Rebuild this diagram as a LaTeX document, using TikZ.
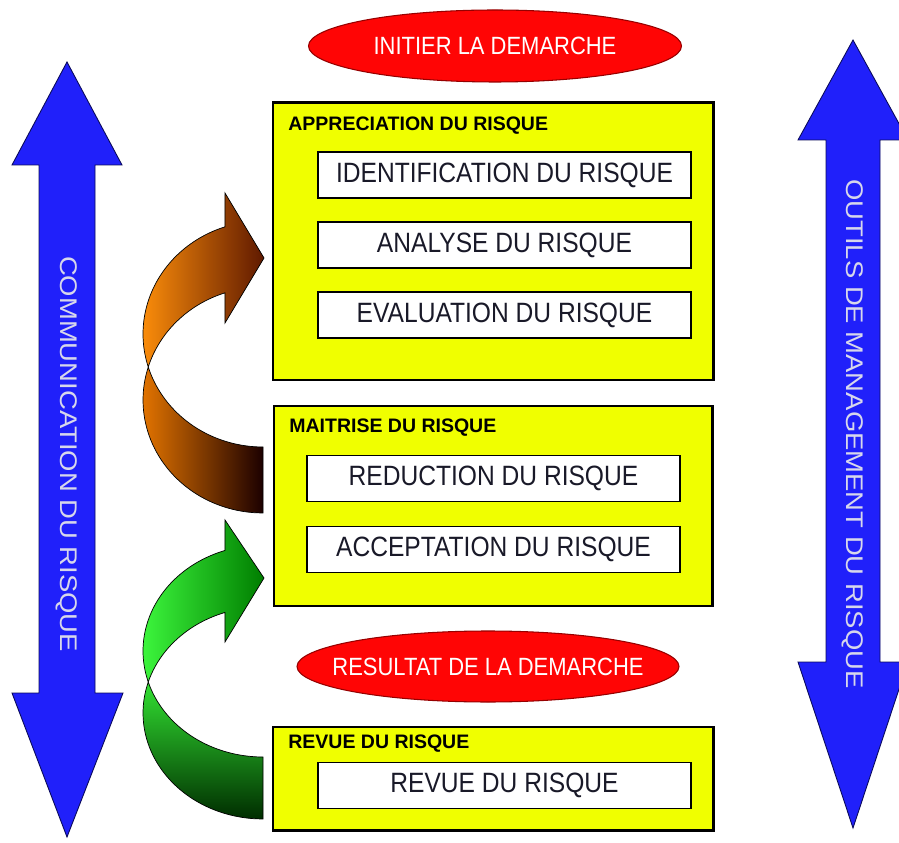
\documentclass[tikz,border=0pt]{standalone}
\usepackage{fontspec}
\setmainfont{Liberation Sans}
\newfontfamily\narrowfont[FakeStretch=0.88]{Liberation Sans}
\newfontfamily\tallfont[FakeStretch=1.14]{Liberation Sans}
\usepackage{tikz}
\usetikzlibrary{shapes.geometric}

\definecolor{boxyellow}{RGB}{240,255,0}
\definecolor{ovalred}{RGB}{255,5,5}
\definecolor{ovalborder}{RGB}{150,0,0}
\definecolor{arrowblue}{RGB}{32,32,250}
\definecolor{navyline}{RGB}{10,10,90}
\definecolor{labelgray}{RGB}{215,215,235}
\definecolor{textdark}{RGB}{25,25,40}

\begin{document}
\begin{tikzpicture}[
    x=0.2mm, y=-0.2mm,
    phase/.style={rectangle, draw=black, line width=1.7pt, fill=boxyellow, inner sep=0pt},
    task/.style={rectangle, draw=black, line width=0.8pt, fill=white, inner sep=0pt,
      minimum width=74.6mm, minimum height=9.2mm, text=textdark,
      font=\narrowfont\fontsize{15.9}{18}\selectfont},
    milestone/.style={ellipse, draw=ovalborder, line width=0.6pt, fill=ovalred,
      inner xsep=-14pt, inner ysep=0pt,
      text=white, font=\narrowfont\fontsize{14.2}{17}\selectfont},
    title/.style={anchor=base west, inner sep=0pt, text=black,
      font=\bfseries\fontsize{11.1}{13}\selectfont},
    sidearrow/.style={draw=navyline, line width=0.5pt, fill=arrowblue},
    sidelabel/.style={rotate=-90, inner sep=0pt, text=labelgray,
      font=\tallfont\fontsize{13.7}{16}\selectfont},
    band/.style={draw=black, line width=0.4pt},
  ]
  \useasboundingbox (0,0) rectangle (899,843);
  \clip (0,0) rectangle (899,843);

  %% --- Side arrows (blue, double headed) ---
  \draw[sidearrow] (67,62) -- (122,165) -- (95,165) -- (95,693) -- (123,693)
    -- (67,837) -- (12,693) -- (39,693) -- (39,165) -- (12,165) -- cycle;
  \node[sidelabel] (comm) at (67,454) {COMMUNICATION DU RISQUE};

  \draw[sidearrow] (853,40) -- (908,140) -- (880,140) -- (880,662) -- (908,662)
    -- (853,828) -- (798,662) -- (826,662) -- (826,140) -- (798,140) -- cycle;
  \node[sidelabel] (tools) at (853,434) {OUTILS DE MANAGEMENT DU RISQUE};

  %% --- Milestones (red ovals) ---
  \node[milestone, minimum width=74.6mm, minimum height=14.4mm] (init) at (495,46)
    {INITIER LA DEMARCHE};
  \node[milestone, minimum width=76.4mm, minimum height=14.2mm] (result) at (488,666.5)
    {RESULTAT DE LA DEMARCHE};

  %% --- Phase boxes (yellow) ---
  % Appreciation
  \node[phase, minimum width=88mm, minimum height=55.4mm] (appr) at (493,241.5) {};
  \node[title] (apprt) at (288,131) {APPRECIATION DU RISQUE};
  \node[task] (ident) at (504.5,175) {IDENTIFICATION DU RISQUE};
  \node[task] (anal) at (504.5,245) {ANALYSE DU RISQUE};
  \node[task] (eval) at (504.5,315) {EVALUATION DU RISQUE};
  % Maitrise
  \node[phase, minimum width=87.6mm, minimum height=40mm] (mait) at (493,506) {};
  \node[title] (maitt) at (289,432) {MAITRISE DU RISQUE};
  \node[task] (reduc) at (493.5,478.5) {REDUCTION DU RISQUE};
  \node[task] (accep) at (493.5,549.5) {ACCEPTATION DU RISQUE};
  % Revue
  \node[phase, minimum width=88mm, minimum height=20.6mm] (rev) at (493,778.5) {};
  \node[title] (revt) at (288,748) {REVUE DU RISQUE};
  \node[task] (revue) at (504.5,785.5) {REVUE DU RISQUE};

  %% --- Curved arrows (twisted ribbons) ---
  % orange: maitrise -> appreciation
  \draw[band, left color={rgb,255:red,225;green,115;blue,0}, right color={rgb,255:red,28;green,0;blue,0}]
    plot[domain=163:270, variable=\t, smooth] ({263+120*cos(\t)},{400-113*sin(\t)})
    -- (263,447)
    -- plot[domain=270:197, variable=\t, smooth] ({263+120*cos(\t)},{334-113*sin(\t)})
    -- cycle;
  \draw[band, left color={rgb,255:red,250;green,140;blue,10}, right color={rgb,255:red,95;green,25;blue,0}]
    plot[domain=197:108.5, variable=\t, smooth] ({263+120*cos(\t)},{334-113*sin(\t)})
    -- (225,193) -- (264,258) -- (225,323)
    -- plot[domain=108.5:163, variable=\t, smooth] ({263+120*cos(\t)},{400-113*sin(\t)})
    -- cycle;

  % green: revue -> maitrise
  \draw[band, top color={rgb,255:red,50;green,225;blue,50}, bottom color={rgb,255:red,0;green,45;blue,0}]
    plot[domain=163:270, variable=\t, smooth] ({263+120*cos(\t)},{713-106*sin(\t)})
    -- (263,757)
    -- plot[domain=270:197, variable=\t, smooth] ({263+120*cos(\t)},{651-106*sin(\t)})
    -- cycle;
  \draw[band, left color={rgb,255:red,60;green,245;blue,60}, right color={rgb,255:red,0;green,125;blue,0}]
    plot[domain=197:108.5, variable=\t, smooth] ({263+120*cos(\t)},{651-106*sin(\t)})
    -- (225,520) -- (264,578) -- (225,642)
    -- plot[domain=108.5:163, variable=\t, smooth] ({263+120*cos(\t)},{713-106*sin(\t)})
    -- cycle;
\end{tikzpicture}
\end{document}
